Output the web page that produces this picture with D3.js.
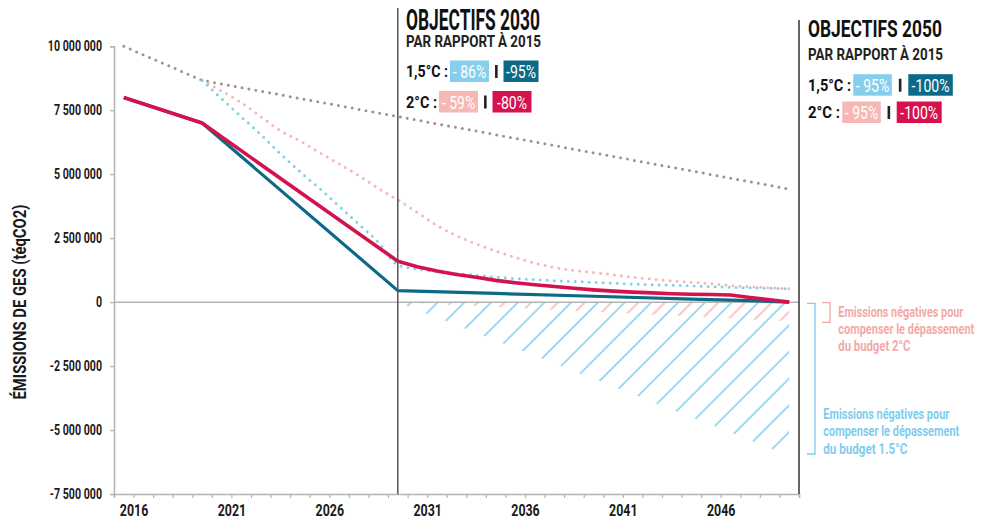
<!DOCTYPE html>
<html lang="fr">
<head>
<meta charset="UTF-8">
<script src="https://d3js.org/d3.v7.min.js"></script>
<style>
  body { margin: 0; background: #fff; }
  svg { display: block; }
  text { font-family: Roboto, "Liberation Sans", sans-serif; font-weight: bold; }
</style>
<title>Objectifs GES</title>
</head>
<body>
<div id="chart"></div>
<script>
// ---- data ----
const bauYears = [2016, 2020, 2050];
const bauValues = [10000000, 8670000, 4420000];

const teal15Years = [2016, 2020, 2030, 2035, 2040, 2045, 2048, 2050];
const teal15Values = [8000000, 7000000, 450000, 340000, 230000, 120000, 60000, 0];

const red2Years = [2016, 2020, 2030, 2031, 2032, 2033, 2034, 2035, 2036, 2037, 2038, 2039, 2040,
  2041, 2042, 2043, 2044, 2045, 2046, 2047, 2048, 2049, 2050];
const red2Values = [8000000, 7000000, 1600000, 1380000, 1220000, 1080000, 970000, 850000, 760000,
  680000, 610000, 540000, 480000, 430000, 390000, 360000, 330000, 310000, 300000, 280000,
  180000, 90000, 0];

const dotYears = d3.range(2020, 2051);
const dot15Values = [8670000, 7950000, 7250000, 6550000, 5800000, 5100000, 4450000, 3750000,
  3050000, 2350000, 1450000, 1290000, 1190000, 1120000, 1050000, 980000, 920000, 880000,
  840000, 810000, 770000, 740000, 710000, 680000, 660000, 630000, 610000, 580000, 560000,
  540000, 520000];
const dot2Values = [8670000, 8250000, 7800000, 7250000, 6700000, 6300000, 5850000, 5400000,
  4950000, 4450000, 4000000, 3500000, 3000000, 2600000, 2280000, 2000000, 1750000, 1520000,
  1360000, 1240000, 1160000, 1070000, 970000, 900000, 830000, 780000, 720000, 650000, 600000,
  560000, 520000];

const negYears = [2030, 2050];
const neg15Values = [0, -6000000];
const neg2Values = [0, -750000];

const yTicks = [-7500000, -5000000, -2500000, 0, 2500000, 5000000, 7500000, 10000000];
const xLabelYears = [2016, 2021, 2026, 2031, 2036, 2041, 2046];

const rowLabels = ["1,5°C :", "2°C :"];
const goals2030 = [["- 86%", "-95%"], ["- 59%", "-80%"]];
const goals2050 = [["- 95%", "-100%"], ["- 95%", "-100%"]];

// ---- colours ----
const teal = "#0b6a88", crimson = "#d5124e", lightBlue = "#86cfec", pink = "#f6b7b5", mauve = "#a38f8f";

const width = 984, height = 519;
const svg = d3.select("#chart").append("svg").attr("width", width).attr("height", height);

const x = d3.scaleLinear().domain([2015.5, 2050.5]).range([114, 799]);
const y = d3.scaleLinear().domain([-7500000, 10000000]).range([494, 46.3]);

const fr = d3.formatLocale({decimal: ",", thousands: " ", grouping: [3], currency: ["", " €"], minus: "-"});

// squeeze glyphs horizontally (the original uses a condensed face)
function condense(sel, f) {
  sel.each(function() {
    const w = this.getComputedTextLength();
    if (w > 0) d3.select(this).attr("textLength", w * f).attr("lengthAdjust", "spacingAndGlyphs");
  });
}
function fit(sel, w) {
  sel.attr("textLength", w).attr("lengthAdjust", "spacingAndGlyphs");
}

// hatch patterns
const defs = svg.append("defs");
function hatch(id, color, offset) {
  const p = defs.append("pattern").attr("id", id)
    .attr("patternUnits", "userSpaceOnUse")
    .attr("width", 18.9).attr("height", 18.9)
    .attr("patternTransform", "rotate(45)");
  p.append("line").attr("x1", offset).attr("x2", offset).attr("y1", 0).attr("y2", 18.9)
    .attr("stroke", color).attr("stroke-width", 1.6);
}
hatch("hatchBlue", lightBlue, 13);
hatch("hatchPink", pink, 3.6);

const area = d3.area().x(d => x(d[0])).y0(y(0)).y1(d => y(d[1]));
svg.append("path").datum(negYears.map((t, i) => [t, neg15Values[i]]))
  .attr("d", area).attr("fill", "url(#hatchBlue)");
svg.append("path").datum(negYears.map((t, i) => [t, neg2Values[i]]))
  .attr("d", area).attr("fill", "url(#hatchPink)");

// axes
const yAxis = svg.append("g").attr("transform", "translate(114,0)")
  .call(d3.axisLeft(y).tickValues(yTicks).tickSize(4).tickPadding(8).tickFormat(fr.format(",")));
const xAxis = svg.append("g").attr("transform", "translate(0,494)")
  .call(d3.axisBottom(x).tickValues(d3.range(2015.5, 2051, 1)).tickSize(4).tickPadding(6)
    .tickFormat(v => xLabelYears.includes(v - 0.5) ? String(v - 0.5) : ""));
[yAxis, xAxis].forEach(a => {
  a.select(".domain").attr("stroke", "#b3b3b3").attr("stroke-width", 1.5);
  a.selectAll(".tick line").attr("stroke", "#b3b3b3").attr("stroke-width", 1.2);
  a.selectAll("text").attr("fill", "#1a1a1a").attr("font-family", "Roboto, sans-serif");
});
yAxis.selectAll("text").style("font-size", "14px");
xAxis.selectAll("text").style("font-size", "17px");
condense(yAxis.selectAll("text"), 0.76);
condense(xAxis.selectAll("text"), 0.73);

// zero line
svg.append("line").attr("x1", x(2015.5)).attr("x2", x(2050.5)).attr("y1", y(0)).attr("y2", y(0))
  .attr("stroke", "#b3b3b3").attr("stroke-width", 1.5);

// lines
const line = d3.line().x(d => x(d[0])).y(d => y(d[1]));
const smooth = d3.line().x(d => x(d[0])).y(d => y(d[1])).curve(d3.curveMonotoneX);
function pairs(ys, vs) { return ys.map((t, i) => [t, vs[i]]); }

function dotted(data, color, gen) {
  svg.append("path").datum(data).attr("d", gen).attr("fill", "none")
    .attr("stroke", color).attr("stroke-width", 3).attr("stroke-linecap", "round")
    .attr("stroke-dasharray", "0,7");
}
dotted(pairs(bauYears, bauValues), mauve, line);
dotted(pairs(dotYears, dot2Values), pink, smooth);
dotted(pairs(dotYears, dot15Values), lightBlue, smooth);

svg.append("path").datum(pairs(teal15Years, teal15Values)).attr("d", line).attr("fill", "none")
  .attr("stroke", teal).attr("stroke-width", 3.2).attr("stroke-linejoin", "round");
svg.append("path").datum(pairs(red2Years, red2Values)).attr("d", line).attr("fill", "none")
  .attr("stroke", crimson).attr("stroke-width", 3.6).attr("stroke-linejoin", "round");

// objective markers
svg.append("line").attr("x1", x(2030)).attr("x2", x(2030)).attr("y1", 8).attr("y2", 494)
  .attr("stroke", "#555").attr("stroke-width", 1.5);
svg.append("line").attr("x1", x(2050.5)).attr("x2", x(2050.5)).attr("y1", 20).attr("y2", 494)
  .attr("stroke", "#333").attr("stroke-width", 1.5);

// y label
fit(svg.append("text").attr("transform", "translate(26,302) rotate(-90)")
  .attr("text-anchor", "middle").style("font-size", "19px").attr("fill", "#1a1a1a")
  .text("ÉMISSIONS DE GES (téqCO2)"), 195);

// objectives blocks
function block(x0, titleY, titleSize, subY, title, rowY, rowBoxes, goals) {
  const g = svg.append("g");
  fit(g.append("text").attr("x", x0).attr("y", titleY).style("font-size", titleSize + "px")
    .attr("fill", "#111").text(title), 134);
  fit(g.append("text").attr("x", x0).attr("y", subY).style("font-size", "16.5px")
    .attr("fill", "#222").text("PAR RAPPORT À 2015"), 135);
  rowLabels.forEach((lab, i) => {
    const by = rowY[i];
    const [b1x, b1w, b2x, b2w, labW] = rowBoxes[i];
    fit(g.append("text").attr("x", x0).attr("y", by).style("font-size", "17px")
      .attr("fill", "#111").text(lab), labW);
    const cols = i === 0 ? [lightBlue, teal] : [pink, crimson];
    [[b1x, b1w], [b2x, b2w]].forEach(([bx, bw], j) => {
      g.append("rect").attr("x", bx).attr("y", by - 16.5).attr("width", bw).attr("height", 21.5).attr("fill", cols[j]);
      const t = g.append("text").attr("x", bx + bw / 2).attr("y", by + 1).attr("text-anchor", "middle")
        .style("font-size", "19px").style("font-weight", "normal").attr("fill", "#fff").text(goals[i][j]);
      condense(t, 0.74);
    });
    g.append("rect").attr("x", (b1x + b1w + b2x) / 2 - 1.2).attr("y", by - 12).attr("width", 2.6).attr("height", 13)
      .attr("fill", "#222");
  });
}
block(406, 30, 29, 46.7, "OBJECTIFS 2030", [77, 107.5],
  [[450, 39, 503.5, 35, 42], [439, 39, 492.5, 39, 31]], goals2030);
block(808, 37.3, 23.5, 60, "OBJECTIFS 2050", [90.7, 118],
  [[853.3, 38.5, 908.3, 44.5, 43], [842.3, 38.5, 896.7, 45, 32]], goals2050);

// negative emission notes
function note(bx, top, bottom, tx, ty, color, lines, widths) {
  svg.append("path").attr("d", `M${bx},${top}H${bx + 8}V${bottom}H${bx}`)
    .attr("fill", "none").attr("stroke", color).attr("stroke-width", 1.3);
  lines.forEach((l, i) => {
    fit(svg.append("text").attr("x", tx).attr("y", ty + i * 17.3).style("font-size", "15px")
      .attr("fill", color).text(l), widths[i]);
  });
}
note(822, 302.7, 322.3, 838.3, 316.5, "#f4a9a7",
  ["Emissions négatives pour", "compenser le dépassement", "du budget 2°C"], [125, 136, 72]);
note(807, 303.3, 454, 823.3, 419, "#7fcdee",
  ["Emissions négatives pour", "compenser le dépassement", "du budget 1.5°C"], [126, 136, 84]);
</script>
</body>
</html>
